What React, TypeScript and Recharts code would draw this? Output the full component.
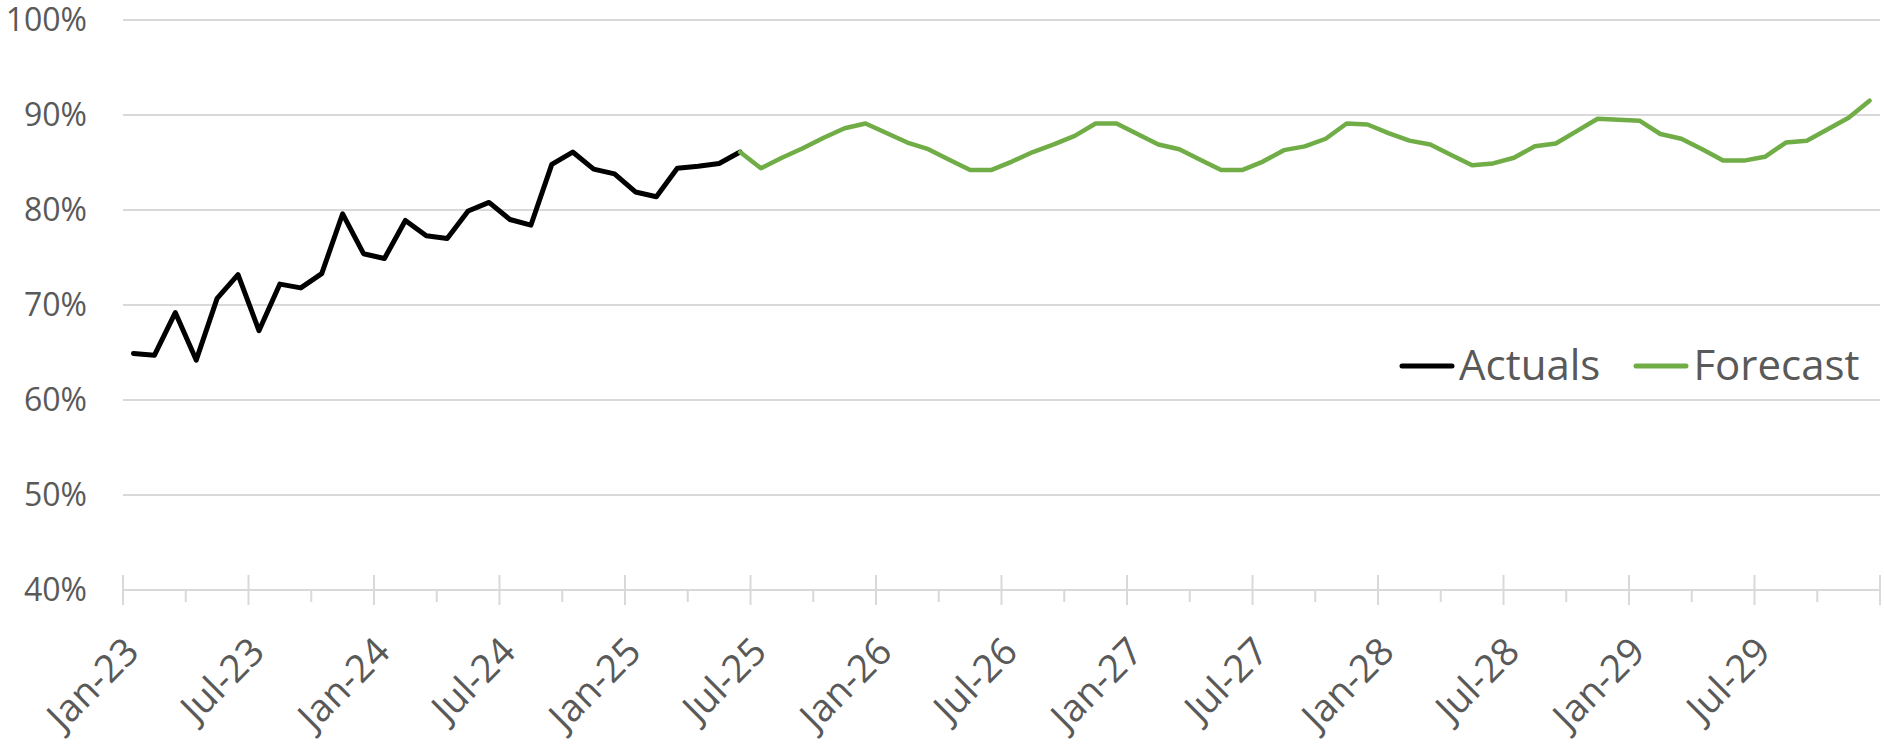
import {
  CartesianGrid,
  Legend,
  Line,
  LineChart,
  XAxis,
  YAxis,
} from "recharts"

const FONT = "'Open Sans', 'Noto Sans', sans-serif"
const TEXT = "#595959"
const GRID = "#d9d9d9"

// Monthly values, Jan-23 .. Jun-25 (actuals) and Jun-25 .. Dec-29 (forecast, starts at the last actual)
const actuals = [
  64.9, 64.7, 69.2, 64.2, 70.7, 73.2, 67.3, 72.2, 71.8, 73.3,
  79.6, 75.4, 74.9, 78.9, 77.3, 77.0, 79.9, 80.8, 79.0, 78.4,
  84.8, 86.1, 84.3, 83.8, 81.9, 81.4, 84.4, 84.6, 84.9, 86.1,
]

const forecast = [
  86.1, 84.4, 85.5, 86.5, 87.6, 88.6, 89.1, 88.1, 87.1, 86.4,
  85.3, 84.2, 84.2, 85.1, 86.1, 86.9, 87.8, 89.1, 89.1, 88.0,
  86.9, 86.4, 85.3, 84.2, 84.2, 85.1, 86.3, 86.7, 87.5, 89.1,
  89.0, 88.1, 87.3, 86.9, 85.8, 84.7, 84.9, 85.5, 86.7, 87.0,
  88.3, 89.6, 89.5, 89.4, 88.0, 87.5, 86.4, 85.2, 85.2, 85.6,
  87.1, 87.3, 88.5, 89.7, 91.5,
]

const tickLabels = [
  "Jan-23", "Jul-23", "Jan-24", "Jul-24", "Jan-25", "Jul-25", "Jan-26",
  "Jul-26", "Jan-27", "Jul-27", "Jan-28", "Jul-28", "Jan-29", "Jul-29",
]

const yTicks = [40, 50, 60, 70, 80, 90, 100]

const TOTAL_MONTHS = actuals.length - 1 + forecast.length
const forecastStart = actuals.length - 1

// month i sits in the middle of its slot, like Excel's "between tick marks"
const chartData = Array.from({ length: TOTAL_MONTHS }, (_, i) => ({
  x: i + 0.5,
  actual: i < actuals.length ? actuals[i] : undefined,
  forecast: i >= forecastStart ? forecast[i - forecastStart] : undefined,
}))

// a tick every quarter, labelled every half year
const xTicks = Array.from({ length: TOTAL_MONTHS / 3 + 1 }, (_, i) => i * 3)

function MonthTick(props: any) {
  const { x, y, payload } = props
  const v = payload.value as number
  const major = v % 6 === 0
  const label = major ? tickLabels[v / 6] : undefined
  const lx = x + 18
  const ly = y + 64
  return (
    <g>
      <line
        x1={x}
        x2={x}
        y1={major ? y - 15 : y}
        y2={major ? y + 15 : y + 12}
        stroke={GRID}
        strokeWidth={2}
      />
      {label && (
        <text
          x={lx}
          y={ly}
          textAnchor="end"
          transform={`rotate(-45 ${lx} ${ly})`}
          fill={TEXT}
          fontSize={38}
          fontFamily={FONT}
        >
          {label}
        </text>
      )}
    </g>
  )
}

function LegendContent({ payload }: any) {
  return (
    <div
      style={{
        display: "flex",
        alignItems: "center",
        fontFamily: FONT,
        fontSize: 42,
        color: TEXT,
        lineHeight: "50px",
        whiteSpace: "nowrap",
      }}
    >
      {(payload ?? []).map((item: any, i: number) => (
        <div
          key={item.value}
          style={{ display: "flex", alignItems: "center", marginLeft: i ? 33 : 0 }}
        >
          <svg width={56} height={12} style={{ marginTop: 3 }}>
            <line
              x1={3}
              x2={53}
              y1={6}
              y2={6}
              stroke={item.color}
              strokeWidth={5}
              strokeLinecap="round"
            />
          </svg>
          <span style={{ marginLeft: 4 }}>{item.value}</span>
        </div>
      ))}
    </div>
  )
}

export default function App() {
  return (
    <div style={{ width: 1884, height: 747, background: "#fff" }}>
      <style>{"body{margin:0}"}</style>
      <LineChart
        width={1884}
        height={747}
        data={chartData}
        margin={{ top: 20, right: 4, left: 0, bottom: 0 }}
      >
        <CartesianGrid vertical={false} stroke={GRID} strokeWidth={2} />
        <XAxis
          type="number"
          dataKey="x"
          domain={[0, TOTAL_MONTHS]}
          ticks={xTicks}
          interval={0}
          height={157}
          tickSize={0}
          tickMargin={0}
          tickLine={false}
          axisLine={{ stroke: GRID, strokeWidth: 2 }}
          tick={<MonthTick />}
        />
        <YAxis
          domain={[40, 100]}
          ticks={yTicks}
          interval={0}
          width={123}
          axisLine={false}
          tickLine={false}
          tickSize={0}
          tickMargin={36}
          tickFormatter={(v) => `${v}%`}
          tick={{ fill: TEXT, fontSize: 32, fontFamily: FONT }}
        />
        <Legend
          layout="horizontal"
          verticalAlign="middle"
          align="center"
          wrapperStyle={{ left: 1399, top: 339, width: 485 }}
          content={<LegendContent />}
        />
        <Line
          type="linear"
          dataKey="actual"
          name="Actuals"
          stroke="#000000"
          strokeWidth={5}
          strokeLinejoin="round"
          strokeLinecap="round"
          dot={false}
          activeDot={false}
          isAnimationActive={false}
        />
        <Line
          type="linear"
          dataKey="forecast"
          name="Forecast"
          stroke="#70ad47"
          strokeWidth={4.5}
          strokeLinejoin="round"
          strokeLinecap="round"
          dot={false}
          activeDot={false}
          isAnimationActive={false}
        />
      </LineChart>
    </div>
  )
}
